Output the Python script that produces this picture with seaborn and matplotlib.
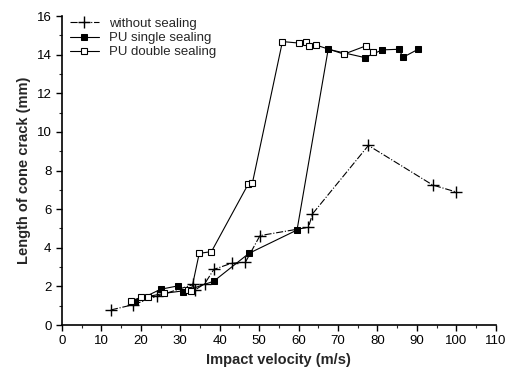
import matplotlib
matplotlib.use("Agg")
import matplotlib.pyplot as plt
import seaborn as sns
import pandas as pd

# without sealing
v_none = [12.4, 18.0, 24.0, 33.3, 33.7, 36.2, 38.5, 43.0, 46.5, 50.2, 62.5, 63.5, 77.7, 94.0, 99.8]
l_none = [0.78, 1.05, 1.48, 2.10, 1.81, 2.14, 2.88, 3.20, 3.25, 4.63, 5.06, 5.75, 9.30, 7.25, 6.90]

# PU single sealing
v_single = [18.5, 25.0, 29.5, 30.8, 38.5, 47.4, 59.6, 67.5, 76.8, 81.2, 85.4, 86.5, 90.3]
l_single = [1.21, 1.85, 2.03, 1.73, 2.27, 3.71, 4.92, 14.28, 13.85, 14.25, 14.28, 13.87, 14.28]

# PU double sealing
v_double = [17.4, 20.0, 21.7, 25.9, 31.9, 32.8, 34.8, 37.9, 47.2, 48.3, 55.9, 60.2, 61.9, 62.7, 64.4, 71.5, 77.1, 78.9]
l_double = [1.24, 1.43, 1.47, 1.64, 1.80, 1.78, 3.71, 3.80, 7.29, 7.37, 14.68, 14.60, 14.66, 14.46, 14.50, 14.03, 14.46, 14.13]

x_ticks = list(range(0, 111, 10))
y_ticks = list(range(0, 17, 2))

sns.set_style("ticks")
plt.rcParams['font.family'] = ['Liberation Sans', 'DejaVu Sans']

fig = plt.figure(figsize=(5.08, 3.74), dpi=100)
ax = fig.add_axes([0.122, 0.131, 0.854, 0.826])

df_none = pd.DataFrame({"v": v_none, "L": l_none})
df_single = pd.DataFrame({"v": v_single, "L": l_single})
df_double = pd.DataFrame({"v": v_double, "L": l_double})

sns.lineplot(data=df_none, x="v", y="L", ax=ax, color="black", linestyle="-.",
             linewidth=0.8, marker="+", markersize=9, markeredgewidth=1.0,
             markeredgecolor="black", estimator=None, sort=False, label="without sealing")
sns.lineplot(data=df_single, x="v", y="L", ax=ax, color="black", linestyle="-",
             linewidth=0.8, marker="s", markersize=5, markerfacecolor="black",
             markeredgecolor="black", estimator=None, sort=False, label="PU single sealing")
sns.lineplot(data=df_double, x="v", y="L", ax=ax, color="black", linestyle="-",
             linewidth=0.8, marker="s", markersize=5, markerfacecolor="white",
             markeredgecolor="black", markeredgewidth=0.8, estimator=None, sort=False,
             label="PU double sealing")

ax.set_xlim(0, 110)
ax.set_ylim(0, 16)
ax.set_xticks(x_ticks)
ax.set_yticks(y_ticks)
ax.set_xticks(range(5, 110, 10), minor=True)
ax.set_yticks(range(1, 16, 2), minor=True)
ax.tick_params(axis="both", which="major", labelsize=9.5, direction="out", length=4, width=1, colors="black")
ax.tick_params(axis="both", which="minor", direction="out", length=2, width=0.8)
ax.set_xlabel("Impact velocity (m/s)", fontsize=10.5, fontweight="bold")
ax.set_ylabel("Length of cone crack (mm)", fontsize=10.5, fontweight="bold")
sns.despine(ax=ax)
for s in ["left", "bottom"]:
    ax.spines[s].set_color("black")
    ax.spines[s].set_linewidth(1.2)

ax.legend(loc="upper left", frameon=False, fontsize=9.5, handlelength=2.2,
          borderaxespad=0.2, labelspacing=0.15, bbox_to_anchor=(0.0, 1.02))

fig.savefig("out.png", dpi=100)
